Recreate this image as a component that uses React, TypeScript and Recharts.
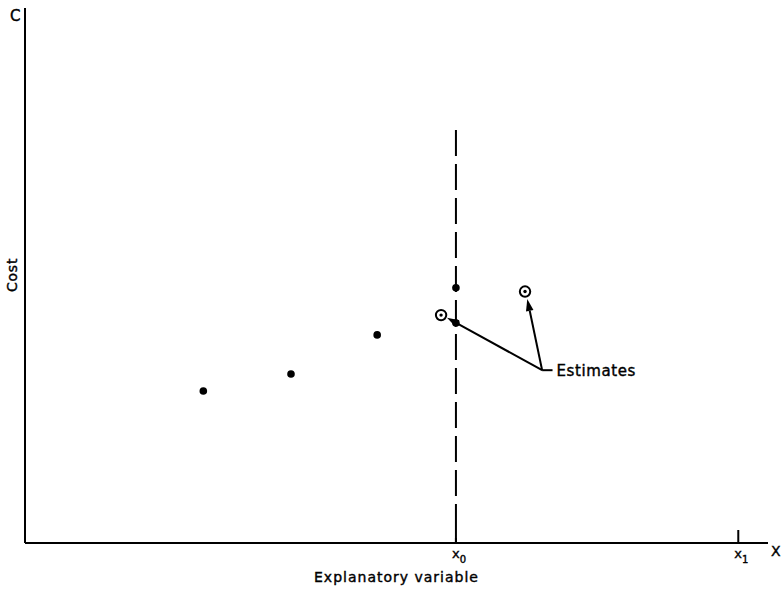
import React from 'react';
import { ScatterChart, Scatter, XAxis, YAxis, ReferenceLine, ReferenceDot } from 'recharts';

// Observed data points (arbitrary units, 0-100 on both axes)
const observedX = [24, 35.8, 47.4, 58];
const observedY = [28.4, 31.6, 38.9, 47.7];
// Point on the x0 line
const lineEstX = [58];
const lineEstY = [41.1];
// Circled estimates
const estX = [56, 67.3];
const estY = [42.6, 47.0];
// Axis ticks
const tickValues = [58, 96];
const tickSubs = ['0', '1'];
// Dashed line at x0
const dashX = 58;
const dashTop = 77.2;
// Arrow origin and tips
const arrowOrigin = [69.6, 32.3];
const arrowTipX = [56.8, 67.6];
const arrowTipY = [42.1, 45.6];
const labelStub = [71.0, 32.3];

const FONT = '"DejaVu Sans", sans-serif';
const TXT = { fontFamily: FONT, fill: '#000', stroke: '#000', strokeWidth: 0.4 };

const observed = observedX.map((x, i) => ({ x, y: observedY[i] }));
const lineEst = lineEstX.map((x, i) => ({ x, y: lineEstY[i] }));
const estimates = estX.map((x, i) => ({ x, y: estY[i] }));

const XTick = (props: any) => {
  const { x, y, index } = props;
  return (
    <g>
      <line x1={x} y1={y} x2={x} y2={y - 13} stroke="#000" strokeWidth={2} />
      <text x={x - 4} y={y + 15} fontSize={13} {...TXT}>
        x<tspan dy={5} fontSize={10}>{tickSubs[index]}</tspan>
      </text>
    </g>
  );
};

const Dot = (props: any) => <circle cx={props.cx} cy={props.cy} r={3.8} fill="#000" />;
const Circled = (props: any) => (
  <g>
    <circle cx={props.cx} cy={props.cy} r={5.2} fill="#fff" stroke="#000" strokeWidth={2} />
    <circle cx={props.cx} cy={props.cy} r={1.7} fill="#000" />
  </g>
);

const Arrow = (props: any) => {
  const { x1, y1, x2, y2 } = props;
  const dx = x2 - x1;
  const dy = y2 - y1;
  const len = Math.hypot(dx, dy) || 1;
  const ux = dx / len;
  const uy = dy / len;
  const hl = 12;
  const hw = 3.8;
  const bx = x2 - ux * hl;
  const by = y2 - uy * hl;
  const px = -uy;
  const py = ux;
  return (
    <g>
      <line x1={x1} y1={y1} x2={bx} y2={by} stroke="#000" strokeWidth={2} />
      <polygon
        points={`${x2},${y2} ${bx + px * hw},${by + py * hw} ${bx - px * hw},${by - py * hw}`}
        fill="#000"
      />
    </g>
  );
};

const Plain = (props: any) => (
  <line x1={props.x1} y1={props.y1} x2={props.x2} y2={props.y2} stroke="#000" strokeWidth={2} />
);

export default function App() {
  return (
    <div style={{ position: 'absolute', left: 0, top: 0, background: '#fff', width: 781, height: 590, overflow: 'hidden' }}>
      <ScatterChart
        width={781}
        height={590}
        margin={{ top: 8, right: 13, left: 24, bottom: 46 }}
        style={{ background: '#fff' }}
      >
        <XAxis
          type="number"
          dataKey="x"
          domain={[0, 100]}
          ticks={tickValues}
          interval={0}
          height={1}
          tickSize={0}
          tickMargin={0}
          tickLine={false}
          tick={<XTick />}
          axisLine={{ stroke: '#000', strokeWidth: 2 }}
          label={{
            value: 'Explanatory variable',
            position: 'bottom',
            offset: 28,
            style: { ...TXT, fontSize: 14, letterSpacing: 1 },
          }}
        />
        <YAxis
          type="number"
          dataKey="y"
          domain={[0, 100]}
          width={1}
          tick={false}
          tickLine={false}
          axisLine={{ stroke: '#000', strokeWidth: 2 }}
        />
        <ReferenceLine
          segment={[{ x: dashX, y: dashTop }, { x: dashX, y: 0 }]}
          stroke="#000"
          strokeWidth={2}
          strokeDasharray="26 8"
          ifOverflow="visible"
        />
        {arrowTipX.map((tx, i) => (
          <ReferenceLine
            key={'a' + i}
            segment={[{ x: arrowOrigin[0], y: arrowOrigin[1] }, { x: tx, y: arrowTipY[i] }]}
            shape={Arrow}
            ifOverflow="visible"
          />
        ))}
        <ReferenceLine
          segment={[{ x: arrowOrigin[0], y: arrowOrigin[1] }, { x: labelStub[0], y: labelStub[1] }]}
          shape={Plain}
          ifOverflow="visible"
        />
        <ReferenceDot
          x={labelStub[0]}
          y={labelStub[1]}
          ifOverflow="visible"
          shape={(p: any) => (
            <text x={p.cx + 4} y={p.cy + 5.5} fontSize={15} letterSpacing={0.6} {...TXT}>
              Estimates
            </text>
          )}
        />
        <ReferenceDot
          x={100}
          y={0}
          ifOverflow="visible"
          shape={(p: any) => (
            <text x={p.cx + 3} y={p.cy + 13} fontSize={14} {...TXT}>
              X
            </text>
          )}
        />
        <ReferenceDot
          x={0}
          y={100}
          ifOverflow="visible"
          shape={(p: any) => (
            <text x={p.cx - 15} y={p.cy + 13} fontSize={15} {...TXT}>
              C
            </text>
          )}
        />
        <ReferenceDot
          x={0}
          y={50.1}
          ifOverflow="visible"
          shape={(p: any) => (
            <text
              x={p.cx - 13}
              y={p.cy}
              fontSize={14}
              letterSpacing={0.8}
              {...TXT}
              textAnchor="middle"
              dominantBaseline="central"
              transform={`rotate(-90 ${p.cx - 13} ${p.cy})`}
            >
              Cost
            </text>
          )}
        />
        <Scatter data={observed} shape={Dot} isAnimationActive={false} />
        <Scatter data={lineEst} shape={Dot} isAnimationActive={false} />
        <Scatter data={estimates} shape={Circled} isAnimationActive={false} />
      </ScatterChart>
    </div>
  );
}
